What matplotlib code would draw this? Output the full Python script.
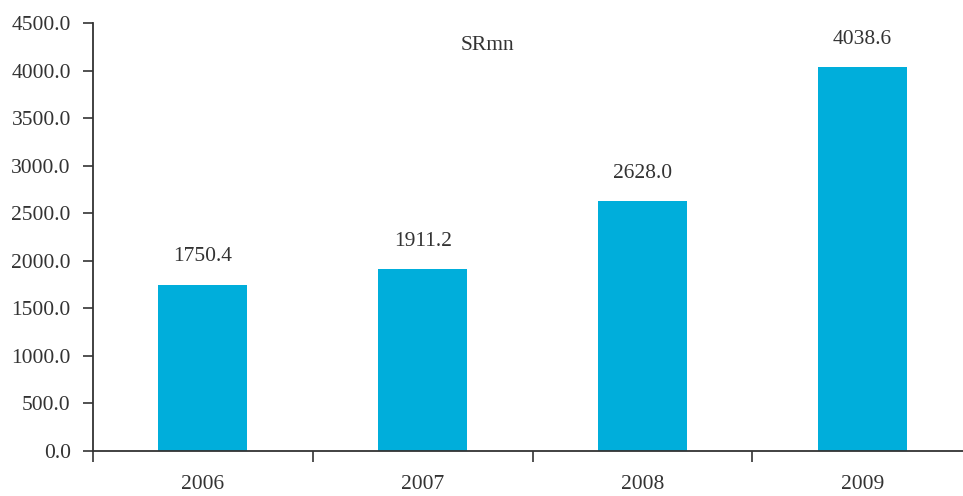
import matplotlib
matplotlib.use("Agg")
import matplotlib.pyplot as plt
import numpy as np

years = ["2006", "2007", "2008", "2009"]
values = [1750.4, 1911.2, 2628.0, 4038.6]

plt.rcParams['font.family'] = ['Liberation Serif', 'DejaVu Serif']
TXT = '#333333'

fig = plt.figure(figsize=(9.63, 4.96), dpi=100)
ax = fig.add_axes([93 / 963, 45 / 496, 879 / 963, 428 / 496])

x = np.arange(len(years))
ax.bar(x, values, width=0.405, color='#00aedb')
for xi, v in zip(x, values):
    ax.annotate(f"{v:.1f}", (xi, v), xytext=(0, 13), textcoords='offset points',
                ha='center', va='bottom', fontsize=15.5, color=TXT)

ax.set_xlim(-0.5, 3.5)
ax.set_ylim(0, 4500)
ax.set_yticks(np.arange(0, 4501, 500))
ax.yaxis.set_major_formatter(matplotlib.ticker.FormatStrFormatter('%.1f'))
ax.set_xticks(np.arange(-0.5, 4, 1))
ax.set_xticklabels([])
ax.set_xticks(x, minor=True)
ax.set_xticklabels(years, minor=True)
ax.tick_params(axis='x', which='minor', length=0, pad=17, labelsize=15.5, labelcolor=TXT)
ax.tick_params(axis='x', which='major', length=8, width=1.2, color=TXT)
ax.tick_params(axis='y', length=7, width=1.2, color=TXT, labelsize=15.5, labelcolor=TXT, pad=9)

for s in ['top', 'right']:
    ax.spines[s].set_visible(False)
for s in ['left', 'bottom']:
    ax.spines[s].set_color(TXT)
    ax.spines[s].set_linewidth(1.3)

fig.text(487 / 963, 1 - 45 / 496, "SRmn", ha='center', va='center', fontsize=15.5, color=TXT)

fig.savefig("out.png", dpi=100)
